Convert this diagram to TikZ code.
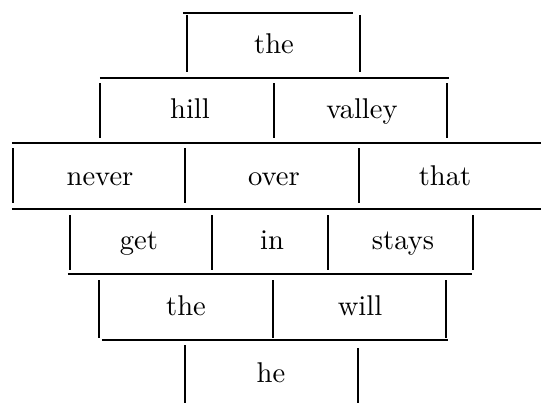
\documentclass[tikz,border=0pt]{standalone}
\usepackage{tikz}
\usepackage{amsmath}

\begin{document}
\begin{tikzpicture}[x=0.35pt, y=-0.35pt, rule/.style={line width=0.6pt}, bar/.style={line width=1pt}, word/.style={anchor=base, inner sep=0pt}]
    \useasboundingbox (0,0) rectangle (541,403);

    % Horizontal rules
    \draw[rule] (183,13) -- (353,13);
    \draw[rule] (100,78) -- (449,78);
    \draw[rule] (12,143) -- (541,143);
    \draw[rule] (12,209) -- (541,209);
    \draw[rule] (68,274) -- (472,274);
    \draw[rule] (102,340) -- (448,340);

    % Row 1
    \draw[bar] (187,15) -- (187,72);
    \draw[bar] (360,15) -- (360,72);
    \node[word] (the1) at (274,53) {the};

    % Row 2
    \draw[bar] (100,83) -- (100,138);
    \draw[bar] (274,83) -- (274,138);
    \draw[bar] (447,83) -- (447,138);
    \node[word] (hill) at (190,118) {hill};
    \node[word] (valley) at (362,118) {valley};

    % Row 3
    \draw[bar] (13,148) -- (13,203);
    \draw[bar] (185,148) -- (185,203);
    \draw[bar] (359,148) -- (359,203);
    \node[word] (never) at (100,185) {never};
    \node[word] (over) at (274,185) {over};
    \node[word] (that) at (445,185) {that};

    % Row 4
    \draw[bar] (70,215) -- (70,270);
    \draw[bar] (212,215) -- (212,270);
    \draw[bar] (328,215) -- (328,270);
    \draw[bar] (473,215) -- (473,270);
    \node[word] (get) at (139,249) {get};
    \node[word] (in) at (272,249) {in};
    \node[word] (stays) at (403,249) {stays};

    % Row 5
    \draw[bar] (99,280) -- (99,338);
    \draw[bar] (273,280) -- (273,338);
    \draw[bar] (446,280) -- (446,338);
    \node[word] (the2) at (186,315) {the};
    \node[word] (will) at (360,315) {will};

    % Row 6
    \draw[bar] (185,345) -- (185,403);
    \draw[bar] (358,348) -- (358,403);
    \node[word] (he) at (271,382) {he};
\end{tikzpicture}
\end{document}
